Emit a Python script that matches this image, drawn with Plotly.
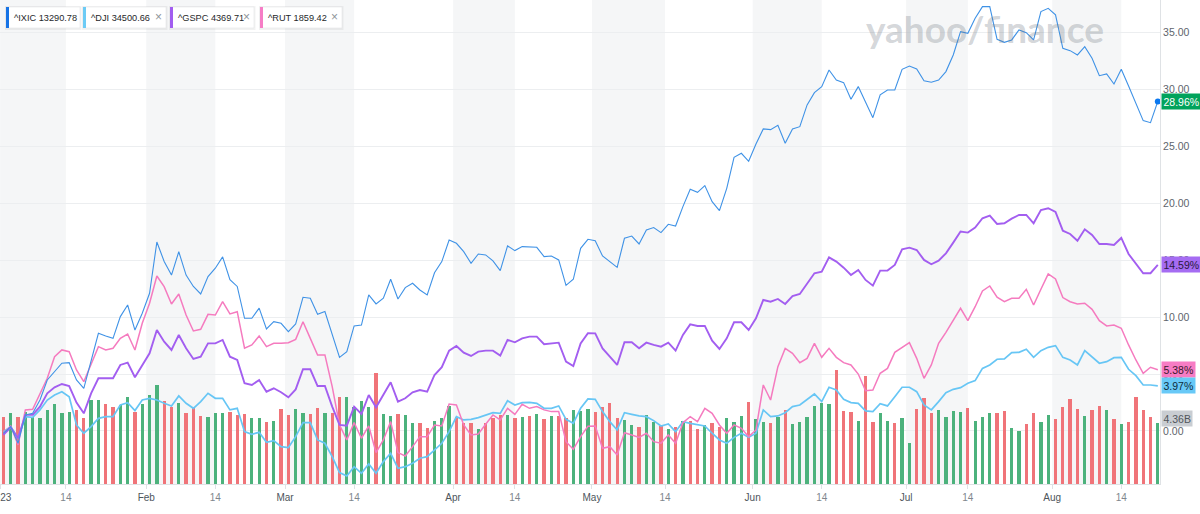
import plotly.graph_objects as go
import pandas as pd

# ---------------- data ----------------
holidays = ["2023-01-02", "2023-01-16", "2023-02-20", "2023-04-07",
            "2023-05-29", "2023-06-19", "2023-07-04"]
dates = [d for d in pd.bdate_range("2023-01-03", "2023-08-21")
         if d.strftime("%Y-%m-%d") not in holidays]

ixic = [-0.2, 0.38, -1.08, 1.41, 1.55, 2.72, 4.48, 5.2, 5.95, 6.0,
        4.48, 3.75, 6.09, 8.58, 8.35, 8.14, 10.05, 11.07, 8.87, 10.34,
        12.1, 16.6, 14.9, 13.7, 15.75, 13.7, 12.7, 12.04, 13.56, 14.3,
        15.3, 13.3, 12.7, 9.9, 9.9, 10.8, 8.96, 9.6, 9.46, 8.73,
        9.4, 11.75, 11.66, 10.25, 10.49, 8.44, 6.47, 6.97, 9.23, 9.31,
        11.95, 11.16, 11.66, 13.33, 11.6, 12.6, 12.98, 12.39, 11.95, 13.9,
        14.88, 16.78, 16.49, 15.76, 14.73, 15.55, 15.47, 14.94, 14.09, 16.26,
        15.85, 16.2, 16.2, 16.14, 15.32, 15.38, 15.03, 12.8, 13.33, 16.05,
        16.84, 16.72, 15.38, 14.88, 14.38, 16.93, 17.13, 16.43, 17.66, 17.87,
        17.43, 18.16, 18.01, 19.71, 21.24, 20.97, 21.56, 20.15, 19.36, 21.32,
        24.05, 24.4, 23.7, 25.22, 26.54, 26.48, 26.86, 25.28, 26.54, 26.74,
        28.65, 29.73, 30.26, 31.72, 30.84, 30.61, 29.15, 30.26, 28.94, 27.53,
        29.53, 29.96, 29.96, 31.78, 32.07, 31.81, 30.78, 30.64, 30.84, 31.58,
        33.04, 35.09, 34.94, 36.26, 37.29, 37.29, 34.42, 34.15, 34.36, 35.24,
        35.0, 34.36, 36.85, 37.14, 36.56, 33.63, 33.42, 33.04, 33.77, 32.75,
        31.22, 31.37, 30.49, 31.78, 30.32, 28.79, 27.27, 27.09, 28.96]

dji = [-0.06, 0.38, -0.64, 1.26, 1.2, 1.85, 2.72, 3.16, 3.45, 3.01,
       0.53, -0.2, 0.38, 1.11, 1.26, 1.26, 2.28, 2.49, 1.79, 2.72,
       2.87, 2.72, 2.43, 2.2, 3.08, 2.43, 1.99, 2.58, 3.31, 2.87,
       2.87, 1.85, 1.99, -0.06, -0.29, -0.12, -0.99, -0.85, -1.38, -1.46,
       -0.5, 0.73, 0.73, -0.79, -1.08, -2.26, -3.66, -3.95, -3.14, -3.72,
       -2.9, -3.72, -2.69, -1.96, -3.28, -3.14, -2.84, -2.4, -2.26, -1.67,
       -1.08, -0.06, 1.26, 0.97, 1.02, 1.17, 1.41, 1.61, 1.55, 2.66,
       2.28, 2.49, 2.52, 2.43, 1.99, 1.99, 2.2, 1.02, 0.67, 1.99,
       2.82, 2.78, 1.7, 0.82, 0.09, 1.61, 1.46, 1.32, 1.26, 0.91,
       0.44, 0.62, -0.06, 0.82, 0.67, 0.53, 0.44, -0.2, -0.79, -1.08,
       -0.56, -0.2, -0.56, -0.2, 1.85, 1.26, 1.32, 1.61, 2.14, 2.28,
       2.78, 3.25, 2.58, 3.84, 3.6, 2.78, 2.49, 2.43, 1.76, 1.7,
       2.4, 2.2, 3.01, 3.84, 3.84, 3.45, 2.28, 1.85, 2.58, 3.37,
       3.66, 3.81, 4.19, 4.42, 5.5, 5.8, 6.3, 6.33, 6.88, 6.91,
       7.18, 6.47, 7.06, 7.35, 7.5, 6.47, 6.24, 5.8, 7.06, 6.53,
       5.95, 6.09, 6.44, 6.47, 5.42, 4.86, 4.04, 4.04, 3.97]

gspc = [-0.35, 0.32, -0.64, 1.41, 1.41, 2.14, 3.31, 3.84, 4.13, 3.95,
        2.49, 1.55, 3.31, 4.63, 4.63, 4.63, 5.8, 6.0, 4.72, 5.8,
        6.83, 8.88, 7.85, 7.12, 8.44, 7.27, 6.33, 6.53, 7.7, 7.7,
        8.0, 6.53, 6.24, 4.19, 4.04, 4.48, 3.45, 3.75, 3.4, 2.96,
        3.65, 5.42, 5.42, 3.95, 3.95, 2.14, 0.53, 0.47, 2.14, 1.49,
        3.16, 2.08, 3.16, 4.28, 2.58, 2.87, 3.4, 3.6, 3.45, 4.92,
        5.6, 7.06, 7.47, 6.88, 6.59, 6.97, 7.06, 7.06, 6.62, 8.0,
        7.79, 8.14, 8.29, 8.29, 7.62, 7.7, 7.76, 6.09, 5.71, 7.7,
        8.6, 8.58, 7.26, 6.53, 5.8, 7.79, 7.79, 7.26, 7.76, 7.56,
        7.41, 7.76, 7.06, 8.44, 9.37, 9.23, 9.23, 7.94, 7.21, 8.14,
        9.55, 9.55, 8.88, 9.9, 11.51, 11.36, 11.6, 11.16, 11.86, 12.04,
        12.98, 13.86, 14.0, 15.26, 14.88, 14.35, 13.71, 14.15, 13.27, 12.77,
        14.09, 14.09, 14.59, 15.96, 16.11, 15.9, 15.03, 14.65, 14.97, 15.61,
        16.55, 17.52, 17.43, 17.87, 18.69, 18.92, 18.19, 18.25, 18.66, 18.98,
        18.98, 18.25, 19.42, 19.57, 19.24, 17.6, 17.31, 16.72, 17.72, 17.22,
        16.43, 16.43, 16.34, 16.96, 15.55, 14.73, 13.86, 13.86, 14.59]

rut = [-0.15, 0.44, -1.23, 1.85, 1.9, 3.31, 4.63, 6.53, 7.12, 6.97,
       5.36, 4.33, 5.95, 7.41, 7.12, 7.27, 8.14, 8.52, 7.12, 9.46,
       11.22, 13.62, 12.68, 11.16, 12.04, 10.19, 8.79, 8.94, 10.25, 10.19,
       11.36, 10.28, 10.48, 7.27, 7.56, 8.35, 7.41, 7.7, 7.7, 7.76,
       8.05, 9.6, 8.14, 6.68, 6.68, 3.9, 0.53, -0.79, 0.73, -0.64,
       0.44, -1.9, -0.79, 0.82, -1.9, -2.2, -1.38, -0.5, -0.5, 0.53,
       0.44, 2.37, 2.28, 0.53, -0.35, -0.26, 0.59, 1.41, 0.97, 1.99,
       1.46, 2.34, 1.99, 2.14, 1.85, 1.7, 1.7, -0.94, -1.61, -0.5,
       0.41, 0.44, -1.52, -1.38, -2.11, -0.15, -0.35, -0.56, -0.2, -0.94,
       -1.08, -0.35, -1.08, 0.73, 1.26, 0.82, 1.99, 1.55, 0.53, -0.2,
       0.53, 0.23, -0.5, 0.09, 4.04, 2.72, 5.65, 7.26, 6.82, 6.0,
       6.38, 7.7, 6.47, 7.26, 6.47, 6.0, 5.8, 5.0, 3.54, 3.6,
       5.07, 5.5, 6.91, 7.35, 7.76, 6.38, 4.63, 5.8, 7.7, 8.67,
       9.75, 10.78, 9.69, 10.92, 12.3, 12.74, 11.75, 11.36, 11.66, 11.66,
       12.45, 11.07, 12.45, 13.8, 13.36, 11.72, 11.36, 11.16, 11.22, 10.69,
       9.69, 9.23, 9.31, 9.02, 7.56, 6.24, 5.07, 5.6, 5.38]

volume_b = [4.81, 5.1, 4.76, 5.17, 4.81, 4.74, 5.29, 5.69, 5.1, 5.14,
            5.29, 4.69, 6.0, 6.0, 5.69, 5.48, 5.64, 6.24, 5.12, 5.69,
            6.36, 7.07, 5.93, 5.52, 5.76, 5.05, 5.52, 4.86, 4.76, 5.05,
            5.1, 5.17, 4.93, 5.0, 4.69, 4.74, 4.43, 4.5, 5.33, 4.93,
            5.33, 5.1, 4.98, 5.4, 5.1, 5.1, 6.19, 6.19, 5.52, 5.93,
            5.48, 7.95, 4.98, 4.86, 4.98, 4.93, 4.38, 4.33, 4.02, 4.5,
            4.74, 5.57, 4.81, 4.33, 4.38, 3.9, 4.33, 4.69, 4.93, 4.93,
            4.69, 4.81, 4.88, 4.98, 4.62, 4.88, 4.88, 4.69, 5.29, 5.21,
            5.33, 5.17, 5.48, 5.76, 4.74, 4.57, 4.21, 4.1, 4.93, 4.45,
            4.14, 3.9, 4.1, 4.52, 4.52, 3.9, 4.21, 4.38, 4.05, 4.69,
            4.45, 4.86, 5.88, 4.62, 4.45, 4.38, 4.81, 5.29, 4.29, 4.45,
            4.76, 5.57, 5.81, 5.71, 8.14, 5.24, 5.17, 4.52, 7.71, 4.45,
            5.05, 4.52, 4.38, 4.69, 2.9, 5.36, 6.12, 5.05, 5.29, 4.81,
            5.24, 5.17, 5.4, 4.52, 4.81, 5.1, 5.1, 5.21, 4.02, 3.79,
            4.29, 5.1, 4.45, 4.93, 4.62, 5.52, 6.05, 5.33, 4.86, 5.29,
            5.57, 5.29, 4.62, 4.29, 4.45, 6.24, 5.29, 4.81, 4.36]

# u = up day (green volume bar), d = down day (red volume bar)
direction = list("duduuuuuuu" "dduudduudu" "uudduddduu" "uddduududd"
                 "uuddudduuu" "uduuduuddu" "uudddudddu" "dudududduu"
                 "udddduuduu" "dududduddu" "uuduududuu" "uuuudddudd"
                 "uuduuddduu" "uuduuudduu" "dduuddddud" "dududdddu")

tick_dates = ["2023-01-01", "2023-01-14", "2023-02-01", "2023-02-14",
              "2023-03-01", "2023-03-14", "2023-04-01", "2023-04-14",
              "2023-05-01", "2023-05-14", "2023-06-01", "2023-06-14",
              "2023-07-01", "2023-07-14", "2023-08-01", "2023-08-14"]
tick_labels = ["2023", "14", "Feb", "14", "Mar", "14", "Apr", "14",
               "May", "14", "Jun", "14", "Jul", "14", "Aug", "14"]

legend_names = ["^IXIC", "^DJI", "^GSPC", "^RUT"]
legend_prices = ["13290.78", "34500.66", "4369.71", "1859.42"]
last_volume_label = "4.36B"

# ---------------- styling ----------------
C_IXIC, C_DJI, C_GSPC, C_RUT = "#3f92e6", "#67c6f5", "#a35ef0", "#f57bbf"
UP, DOWN = "#4cb27c", "#f07479"
FONT = "Liberation Sans"

x = list(range(len(dates)))
X0, X1 = -0.47, 158.30


def pos(ds):
    d = pd.Timestamp(ds)
    j = next(i for i, t in enumerate(dates) if t >= d)
    if dates[j] == d and d.day != 1:
        return j
    return j - 0.45


tickvals = [pos(d) for d in tick_dates]
ticktext = [f'<span style="color:#4e555c">{t}</span>' if not t.isdigit() or len(t) == 4
            else t for t in tick_labels]

fig = go.Figure()

fig.add_trace(go.Bar(x=x, y=volume_b, yaxis="y",
                     marker=dict(color=[UP if c == "u" else DOWN for c in direction],
                                 line=dict(width=0)),
                     width=0.45, hoverinfo="skip", showlegend=False))

for name, vals, col, w in [("^DJI", dji, C_DJI, 1.7), ("^RUT", rut, C_RUT, 1.5),
                           ("^GSPC", gspc, C_GSPC, 1.9), ("^IXIC", ixic, C_IXIC, 1.1)]:
    fig.add_trace(go.Scatter(x=x, y=vals, yaxis="y2", mode="lines", name=name,
                             line=dict(color=col, width=w), showlegend=False))

fig.add_trace(go.Scatter(x=[x[-1]], y=[ixic[-1]], yaxis="y2", mode="markers",
                         marker=dict(color="#0a78f0", size=6), cliponaxis=False,
                         showlegend=False))

# background month bands
shapes = []
for m in range(1, 9):
    a = max(pos(f"2023-{m:02d}-01"), X0)
    b = pos(f"2023-{m:02d}-14")
    shapes.append(dict(type="rect", xref="x", yref="paper", x0=a, x1=b, y0=0, y1=1,
                       fillcolor="#f5f6f7", line=dict(width=0), layer="below"))

# legend chips (pixel geometry)
chips = [(6, 80, False), (83, 166, True), (170, 254, True), (260, 342, True)]
bar_cols = ["#1673e6", "#6ccbf5", "#a25df0", "#f67dc6"]
annotations = []
for (xa, xb, close), bc, nm, pr in zip(chips, bar_cols, legend_names, legend_prices):
    shapes.append(dict(type="rect", xref="paper", yref="paper", xsizemode="pixel",
                       ysizemode="pixel", xanchor=0, yanchor=1,
                       x0=xa - 1, x1=xb + 1.5, y0=-6, y1=-30,
                       fillcolor="rgba(0,0,0,0.05)", line=dict(width=0), layer="above"))
    shapes.append(dict(type="rect", xref="paper", yref="paper", xsizemode="pixel",
                       ysizemode="pixel", xanchor=0, yanchor=1,
                       x0=xa, x1=xb, y0=-7, y1=-28,
                       fillcolor="white", line=dict(color="#e4e6e8", width=0.6), layer="above"))
    shapes.append(dict(type="rect", xref="paper", yref="paper", xsizemode="pixel",
                       ysizemode="pixel", xanchor=0, yanchor=1,
                       x0=xa, x1=xa + 3, y0=-7, y1=-28,
                       fillcolor=bc, line=dict(width=0), layer="above"))
    annotations.append(dict(xref="paper", yref="paper", x=0, y=1, xanchor="left",
                            yanchor="middle", xshift=xa + 6, yshift=-17.5,
                            text=f"{nm} {pr}", showarrow=False,
                            font=dict(family=FONT, size=9.2, color="#26282a")))
    if close:
        annotations.append(dict(xref="paper", yref="paper", x=0, y=1, xanchor="center",
                                yanchor="middle", xshift=xb - 8, yshift=-17,
                                text="×", showarrow=False,
                                font=dict(family=FONT, size=12, color="#8f959b")))

# watermark
annotations.append(dict(xref="paper", yref="paper", x=0, y=1, xanchor="center",
                        yanchor="middle", xshift=985, yshift=-28,
                        text="<b>yahoo/finance</b>", showarrow=False,
                        font=dict(family="Lato", size=37, color="rgba(110,118,128,0.30)")))

# end-of-series value labels
for val, yref, bg, fg, txt, ys in [
        (ixic[-1], "y2", "#00a35c", "white", f"{ixic[-1]:.2f}%", 0),
        (gspc[-1], "y2", "#a56cf2", "#2a1a40", f"{gspc[-1]:.2f}%", 0),
        (rut[-1], "y2", "#f77cc4", "#3a1a2c", f"{rut[-1]:.2f}%", 0),
        (dji[-1], "y2", "#68c9f7", "#0f2c3c", f"{dji[-1]:.2f}%", 0),
        (volume_b[-1], "y", "#c9cdd2", "#50565c", last_volume_label, 4)]:
    annotations.append(dict(xref="paper", yref=yref, x=1, y=val, xanchor="left",
                            yanchor="middle", xshift=1, yshift=ys, text=txt,
                            showarrow=False, bgcolor=bg, borderpad=1.5,
                            font=dict(family=FONT, size=10.5, color=fg)))

fig.update_layout(
    width=1200, height=514,
    margin=dict(l=0, r=40, t=0, b=30, autoexpand=False),
    paper_bgcolor="white", plot_bgcolor="white",
    bargap=0, showlegend=False,
    shapes=shapes, annotations=annotations,
    xaxis=dict(range=[X0, X1], tickmode="array", tickvals=tickvals, ticktext=ticktext,
               showgrid=False, zeroline=False, showline=True, linecolor="#dfe2e5",
               ticks="outside", ticklen=4, tickcolor="#dfe2e5",
               ticklabeloverflow="allow", automargin=False,
               tickfont=dict(family=FONT, size=10, color="#80878e")),
    yaxis=dict(range=[0, 34.57], visible=False, showgrid=False, zeroline=False,
               automargin=False),
    yaxis2=dict(range=[-4.66, 37.87], overlaying="y", side="right", anchor="x",
                tickvals=[0, 5, 10, 15, 20, 25, 30, 35], tickformat=".2f", ticksuffix="%",
                showgrid=True, gridcolor="#eceef0", gridwidth=1, zeroline=False,
                showline=True, linecolor="#dfe2e5", ticks="", automargin=False,
                tickfont=dict(family=FONT, size=10.5, color="#5e656c")),
)

fig.write_html("out.html", config={"displayModeBar": False},
               post_script="document.body.style.margin='0';")
